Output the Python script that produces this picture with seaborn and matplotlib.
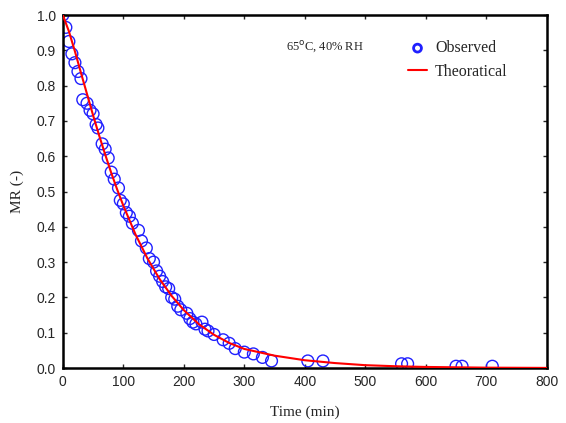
import matplotlib
matplotlib.use("Agg")
import matplotlib.pyplot as plt
import seaborn as sns
import pandas as pd

obs_time = [0, 5, 10, 15, 20, 25, 30, 33, 40, 45, 50, 55, 58, 65, 70, 75, 80, 85,
            92, 95, 100, 105, 110, 115, 125, 130, 138, 143, 150, 155, 160, 165,
            170, 175, 180, 185, 190, 195, 205, 210, 215, 220, 230, 235, 240, 250,
            265, 275, 285, 300, 315, 330, 345, 405, 430, 560, 570, 650, 660, 710]
obs_mr = [1.0, 0.965, 0.925, 0.89, 0.865, 0.84, 0.82, 0.76, 0.75, 0.73, 0.72, 0.69,
          0.68, 0.635, 0.62, 0.595, 0.555, 0.535, 0.51, 0.475, 0.465, 0.44, 0.43,
          0.41, 0.39, 0.36, 0.34, 0.31, 0.30, 0.275, 0.26, 0.245, 0.23, 0.225,
          0.20, 0.195, 0.175, 0.165, 0.155, 0.14, 0.13, 0.125, 0.13, 0.11, 0.105,
          0.095, 0.08, 0.07, 0.055, 0.045, 0.04, 0.03, 0.02, 0.02, 0.02, 0.012,
          0.012, 0.005, 0.005, 0.005]

# Theoretical curve
th_time = [0, 10, 20, 30, 40, 50, 60, 70, 80, 90, 100, 120, 140, 160, 180, 200,
           225, 250, 275, 300, 350, 400, 450, 500, 550, 600, 700, 800]
th_mr = [1.0, 0.954, 0.897, 0.836, 0.776, 0.716, 0.659, 0.605, 0.553, 0.505, 0.46,
         0.379, 0.31, 0.252, 0.204, 0.164, 0.124, 0.094, 0.071, 0.054, 0.035,
         0.022, 0.014, 0.008, 0.005, 0.003, 0.001, 0.0003]

x_ticks = [0, 100, 200, 300, 400, 500, 600, 700, 800]
y_ticks = [0.0, 0.1, 0.2, 0.3, 0.4, 0.5, 0.6, 0.7, 0.8, 0.9, 1.0]

sns.set_style("ticks")
plt.rcParams["font.family"] = ["Liberation Sans", "DejaVu Sans"]

df_obs = pd.DataFrame({"Time": obs_time, "MR": obs_mr})
df_th = pd.DataFrame({"Time": th_time, "MR": th_mr})

fig = plt.figure(figsize=(5.66, 4.23), dpi=100)
ax = fig.add_axes([0.111, 0.130, 0.855, 0.8345])

sns.scatterplot(data=df_obs, x="Time", y="MR", ax=ax, marker="o", s=72,
                facecolor="none", edgecolor="#2020ff", linewidth=1.0,
                label="Observed", zorder=2)
sns.lineplot(data=df_th, x="Time", y="MR", ax=ax, color="#ff0000", linewidth=1.5,
             label="Theoratical", zorder=3)

ax.set_xlim(0, 800)
ax.set_ylim(0, 1.0)
ax.set_xticks(x_ticks)
ax.set_yticks(y_ticks)
ax.set_yticklabels([f"{v:.1f}" for v in y_ticks])
ax.tick_params(direction="in", top=True, right=True, length=3, width=1,
               labelsize=10, pad=5)
for sp in ax.spines.values():
    sp.set_linewidth(1.8)
    sp.set_color("black")

serif = ["Liberation Serif", "DejaVu Serif"]
ax.set_xlabel("Time (min)", family=serif, fontsize=11, labelpad=12)
ax.set_ylabel("MR (-)", family=serif, fontsize=11, labelpad=9)

ax.text(433, 0.91, r"65$^{\rm o}$C, 40% RH", family=serif, fontsize=9,
        ha="center", va="center")

leg = ax.legend(loc="upper left", bbox_to_anchor=(0.69, 0.96), frameon=False,
                prop={"family": serif, "size": 11.5}, handlelength=1.2,
                handletextpad=0.5, labelspacing=0.45, borderpad=0.2)
h0 = leg.legend_handles[0]
h0.set_sizes([32])
h0.set_linewidth(2.0)

fig.savefig("out.png", dpi=100)
